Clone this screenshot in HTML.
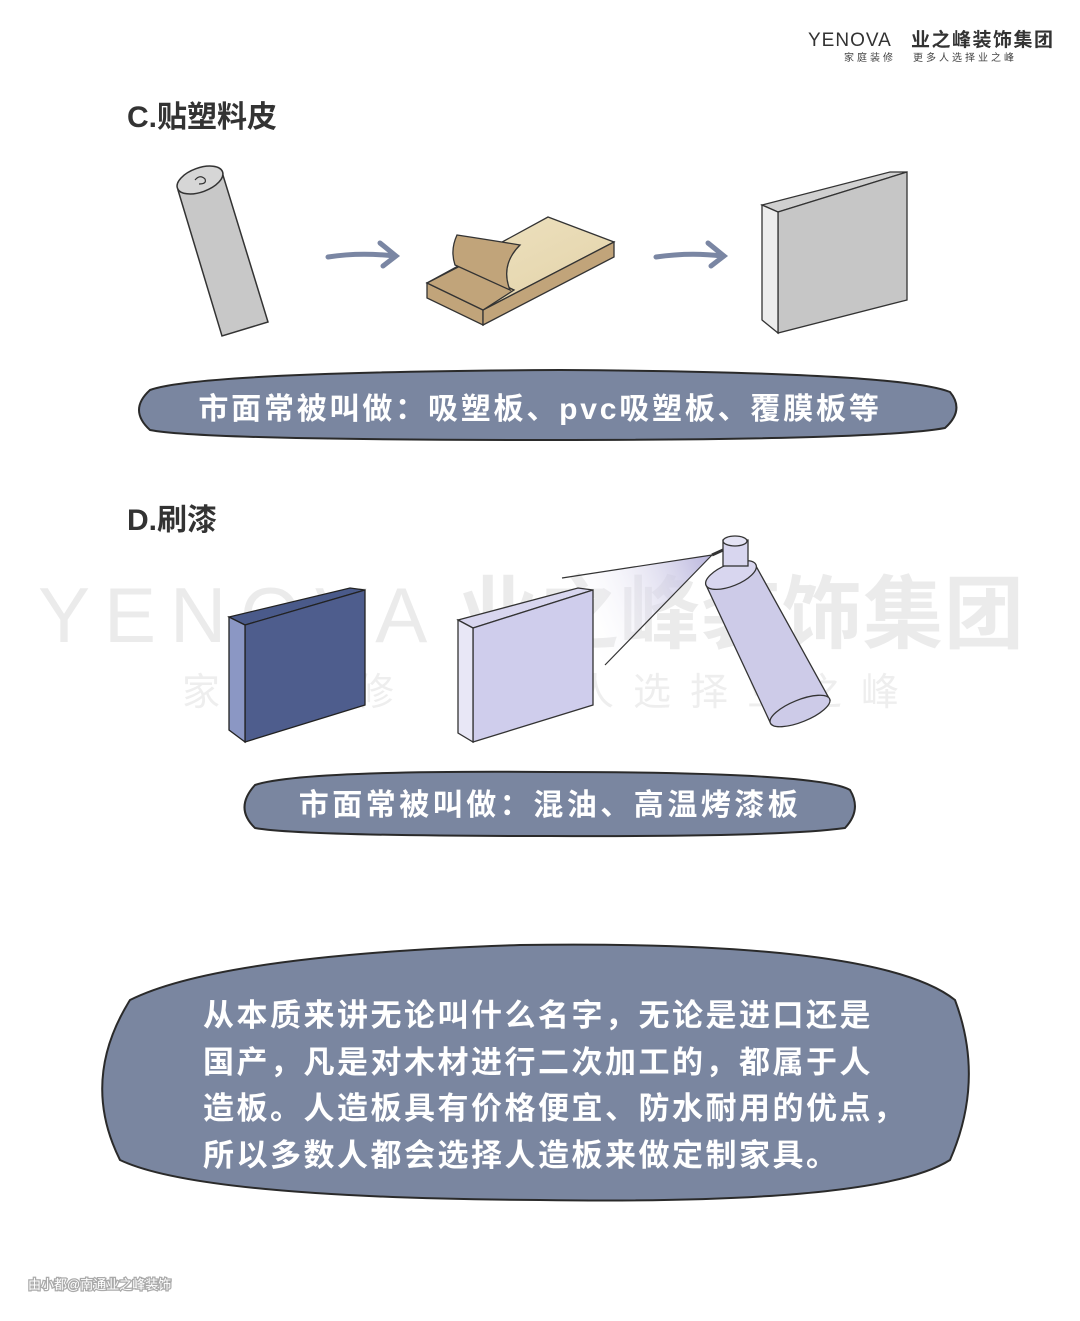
<!DOCTYPE html>
<html><head><meta charset="utf-8"><style>
html,body{margin:0;padding:0;background:#fff;}
body{width:1080px;height:1321px;position:relative;overflow:hidden;font-family:"Liberation Sans","Noto Sans CJK SC",sans-serif;}
svg{position:absolute;left:0;top:0;}
</style></head><body>
<svg width="1080" height="1321" viewBox="0 0 1080 1321" xmlns="http://www.w3.org/2000/svg" font-family="'Liberation Sans','Noto Sans CJK SC',sans-serif">
<defs>
<linearGradient id="sp" x1="1" y1="0" x2="0" y2="0.3"><stop offset="0" stop-color="#b8b4dc"/><stop offset="1" stop-color="#fff" stop-opacity="0"/></linearGradient>
<linearGradient id="wd" x1="0" y1="0" x2="1" y2="1"><stop offset="0" stop-color="#efe3c2"/><stop offset="1" stop-color="#e2d2a8"/></linearGradient>
</defs>
<!-- logo -->
<text x="808" y="46" font-size="19" fill="#333" letter-spacing="1">YENOVA</text>
<text x="911" y="46" font-size="19" font-weight="bold" fill="#333" letter-spacing="1.5">业之峰装饰集团</text>
<text x="844" y="61" font-size="10" fill="#444" letter-spacing="3">家庭装修</text>
<text x="913" y="61" font-size="10" fill="#444" letter-spacing="3">更多人选择业之峰</text>
<!-- watermark -->
<text x="38" y="642" font-size="78" fill="#ebebeb" letter-spacing="14">YENOVA</text>
<text x="458" y="642" font-size="80" fill="#ebebeb" font-weight="bold" letter-spacing="1">业之峰装饰集团</text>
<text x="182" y="705" font-size="38" fill="#eeeeee" letter-spacing="20">家庭装修</text>
<text x="462" y="705" font-size="38" fill="#eeeeee" letter-spacing="19">更多人选择业之峰</text>
<!-- C -->
<text x="127" y="127" font-size="30" font-weight="bold" fill="#333">C.贴塑料皮</text>
<!-- roll -->
<polygon points="178,190 222,172 268,322 222,336" fill="#c8c8c8" stroke="#333" stroke-width="1.5"/>
<ellipse cx="200" cy="180" rx="24" ry="12" transform="rotate(-20 200 180)" fill="#d6d6d6" stroke="#333" stroke-width="1.5"/>
<path d="M195,180 q5,-6 10,-1 q2,5 -6,5" fill="none" stroke="#333" stroke-width="1.2"/>
<!-- arrows -->
<path d="M328,257 Q360,252 394,256 M380,243 L396,256 L383,266" fill="none" stroke="#7a86a3" stroke-width="5" stroke-linecap="round"/>
<path d="M656,257 Q690,252 722,256 M708,243 L724,256 L711,266" fill="none" stroke="#7a86a3" stroke-width="5" stroke-linecap="round"/>
<!-- wood -->
<polygon points="427,283 548,217 614,242 483,310" fill="url(#wd)" stroke="#333" stroke-width="1.3"/>
<polygon points="427,283 483,310 483,325 427,298" fill="#c1a47a" stroke="#333" stroke-width="1.3"/>
<polygon points="483,310 614,242 614,257 483,325" fill="#c1a47a" stroke="#333" stroke-width="1.3"/>
<polygon points="427,283 462,265 514,290 483,310" fill="#c1a47a" stroke="#333" stroke-width="1.3"/>
<path d="M457,235 Q450,250 455,265 L510,290 Q500,265 520,245 Q490,240 457,235Z" fill="#c1a47a" stroke="#333" stroke-width="1.3"/>
<!-- board -->
<polygon points="762,205 890,172 907,172 778,212" fill="#d0d0d0" stroke="#333" stroke-width="1.3"/>
<polygon points="778,212 907,172 907,300 778,333" fill="#c6c6c6" stroke="#333" stroke-width="1.3"/>
<polygon points="762,205 778,212 778,333 762,320" fill="#ececec" stroke="#333" stroke-width="1.3"/>
<!-- blob1 -->
<path d="M150,390 Q200,372 560,370 Q900,372 950,392 Q965,410 945,428 Q880,440 550,440 Q200,440 150,430 Q128,410 150,390Z" fill="#7a86a0" stroke="#2a2a2a" stroke-width="2"/>
<text x="540" y="419" font-size="30" font-weight="bold" fill="#fff" text-anchor="middle" letter-spacing="2.8">市面常被叫做：吸塑板、pvc吸塑板、覆膜板等</text>
<!-- D -->
<text x="127" y="530" font-size="30" font-weight="bold" fill="#333">D.刷漆</text>
<!-- dark board -->
<polygon points="229,617 350,588 365,590 245,625" fill="#4a5a8a" stroke="#222" stroke-width="1.3"/>
<polygon points="245,625 365,590 365,705 245,742" fill="#4e5d8d" stroke="#222" stroke-width="1.3"/>
<polygon points="229,617 245,625 245,742 229,730" fill="#8b97c4" stroke="#222" stroke-width="1.3"/>
<!-- spray -->
<polygon points="712,555 562,578 605,665" fill="url(#sp)"/>
<line x1="712" y1="555" x2="562" y2="578" stroke="#333" stroke-width="1.2"/>
<line x1="712" y1="555" x2="605" y2="665" stroke="#333" stroke-width="1.2"/>
<!-- light board -->
<polygon points="458,620 578,588 593,590 473,628" fill="#d8d6ef" stroke="#333" stroke-width="1.3"/>
<polygon points="473,628 593,590 593,705 473,742" fill="#cfcdec" stroke="#333" stroke-width="1.3"/>
<polygon points="458,620 473,628 473,742 458,733" fill="#e8e7f6" stroke="#333" stroke-width="1.3"/>
<!-- can -->
<polygon points="706,585 756,566 830,700 770,722" fill="#cdcbe8" stroke="#333" stroke-width="1.3"/>
<ellipse cx="731" cy="575" rx="27" ry="11" transform="rotate(-22 731 575)" fill="#d8d6ef" stroke="#333" stroke-width="1.3"/>
<ellipse cx="800" cy="711" rx="32" ry="11" transform="rotate(-22 800 711)" fill="#cdcbe8" stroke="#333" stroke-width="1.3"/>
<rect x="723" y="540" width="25" height="26" fill="#d8d6ef" stroke="#333" stroke-width="1.3"/>
<ellipse cx="735" cy="541" rx="12" ry="5" fill="#e4e3f4" stroke="#333" stroke-width="1.3"/>
<line x1="712" y1="555" x2="723" y2="550" stroke="#333" stroke-width="3"/>
<!-- blob2 -->
<path d="M255,785 Q300,770 550,772 Q820,772 850,790 Q862,810 845,828 Q780,837 550,836 Q300,836 255,828 Q234,808 255,785Z" fill="#7a86a0" stroke="#2a2a2a" stroke-width="2"/>
<text x="550" y="815" font-size="30" font-weight="bold" fill="#fff" text-anchor="middle" letter-spacing="3.5">市面常被叫做：混油、高温烤漆板</text>
<!-- big blob -->
<path d="M130,1000 Q220,955 520,945 Q880,940 955,1000 Q985,1080 950,1160 Q880,1205 540,1200 Q200,1198 120,1160 Q80,1080 130,1000Z" fill="#7a86a0" stroke="#2a2a2a" stroke-width="2"/>
<g font-size="31" font-weight="bold" fill="#fff" letter-spacing="2.5">
<text x="203" y="1026">从本质来讲无论叫什么名字，无论是进口还是</text>
<text x="203" y="1073">国产，凡是对木材进行二次加工的，都属于人</text>
<text x="203" y="1119">造板。人造板具有价格便宜、防水耐用的优点，</text>
<text x="203" y="1166">所以多数人都会选择人造板来做定制家具。</text>
</g>
<text x="28" y="1289" font-size="13" fill="#fff" stroke="#aaa" stroke-width="2.5" paint-order="stroke">由小都@南通业之峰装饰</text>
</svg>
</body></html>
